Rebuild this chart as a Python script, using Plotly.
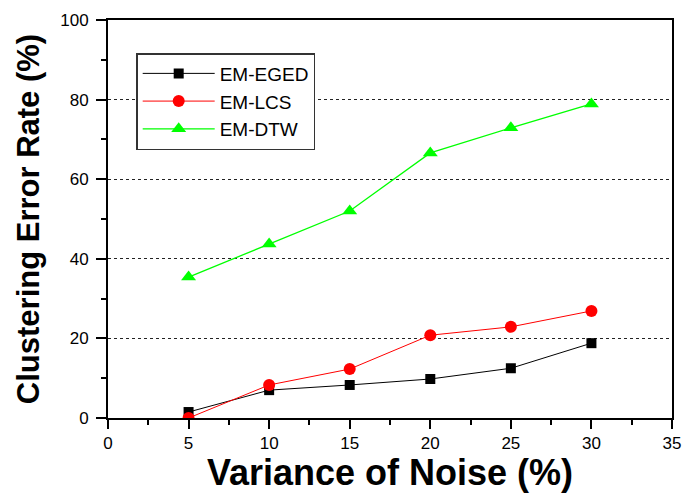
import plotly.graph_objects as go

x = [5, 10, 15, 20, 25, 30]
eged = [1.5, 7.0, 8.3, 9.8, 12.5, 18.8]
lcs = [0.0, 8.3, 12.3, 20.8, 22.9, 26.9]
dtw = [35.4, 43.7, 52.0, 66.6, 72.9, 78.9]

fig = go.Figure()
fig.add_trace(go.Scatter(x=x, y=eged, name="EM-EGED", mode="lines+markers",
                         line=dict(color="black", width=1),
                         marker=dict(symbol="square", size=10, color="black")))
fig.add_trace(go.Scatter(x=x, y=lcs, name="EM-LCS", mode="lines+markers",
                         line=dict(color="red", width=1),
                         marker=dict(symbol="circle", size=12, color="red")))
fig.add_trace(go.Scatter(x=x, y=dtw, name="EM-DTW", mode="lines+markers",
                         line=dict(color="#00ff00", width=1.3),
                         marker=dict(symbol="triangle-up", size=13, color="#00ff00")))

fig.update_layout(
    width=685, height=493,
    margin=dict(l=108, r=13, t=20, b=75),
    plot_bgcolor="white", paper_bgcolor="white",
    font=dict(family="Liberation Sans, Arial", color="black", size=17),
    showlegend=True,
    legend=dict(x=0.05, y=0.917, xanchor="left", yanchor="top",
                bordercolor="#333", borderwidth=1.5, bgcolor="white",
                font=dict(size=19), tracegroupgap=0, itemwidth=72),
)
fig.update_xaxes(range=[0, 35], dtick=5, tick0=0, automargin=False,
                 showline=True, linecolor="black", linewidth=2, mirror=True,
                 ticks="outside", ticklen=9, tickwidth=1.5, tickcolor="black",
                 minor=dict(dtick=2.5, ticklen=5, tickwidth=1.5, tickcolor="black", showgrid=False),
                 showgrid=False, zeroline=False,
                 title=dict(text="<b>Variance of Noise (%)</b>", font=dict(size=36), standoff=8))
fig.update_yaxes(range=[0, 100], dtick=20, tick0=0, automargin=False,
                 showline=True, linecolor="black", linewidth=2, mirror=True,
                 ticks="outside", ticklen=10, tickwidth=1.5, tickcolor="black",
                 ticklabelstandoff=4,
                 minor=dict(dtick=10, ticklen=5, tickwidth=1.5, tickcolor="black", showgrid=False),
                 showgrid=True, gridcolor="#222", gridwidth=0.8, griddash="dot", zeroline=False,
                 title=dict(text="<b>Clustering Error Rate (%)</b>", font=dict(size=31), standoff=11))

fig.write_html("out.html", config={"displayModeBar": False},
               post_script="document.body.style.margin='0';document.body.style.overflow='hidden';")
